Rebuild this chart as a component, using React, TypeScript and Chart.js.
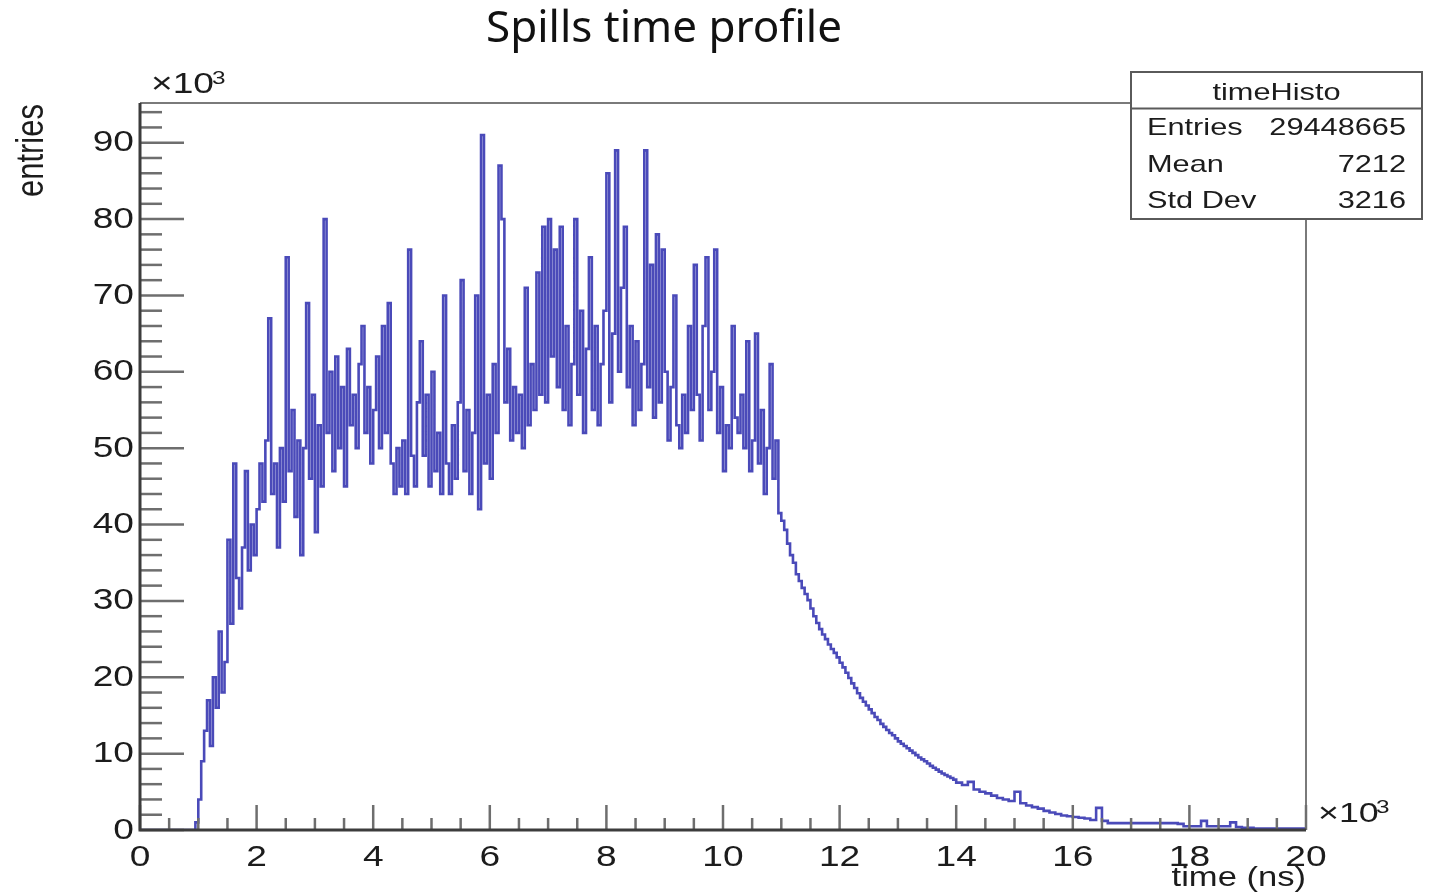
import React, { useEffect, useRef } from 'react';
import { Chart, registerables } from 'chart.js';

Chart.register(...registerables);

// ---------------- data (counts in units of 10^3, time in units of 10^3 ns) ----------------
const leadEdges = [0, 0.95];
const leadCounts = [0, 0];

const noisyStart = 1.0;
const noisyWidth = 0.05;
const counts1to3 = [1, 4, 9, 13, 17, 11, 20, 16, 26, 18, 22, 38, 27, 48, 33, 29, 37, 47, 34, 40,
  36, 42, 48, 43, 51, 67, 44, 48, 37, 50, 43, 75, 47, 55, 41, 51, 36, 50, 69, 46];
const counts3to5 = [57, 39, 53, 45, 80, 52, 60, 47, 62, 50, 58, 45, 63, 53, 57, 50, 61, 66, 52, 58,
  48, 55, 62, 50, 66, 52, 69, 48, 44, 50, 45, 51, 44, 76, 49, 45, 56, 64, 49, 57];
const counts5to7 = [45, 60, 47, 52, 44, 70, 48, 44, 53, 46, 56, 72, 47, 55, 44, 52, 70, 42, 91, 48,
  57, 46, 61, 52, 87, 80, 56, 63, 51, 58, 52, 57, 50, 71, 53, 61, 55, 73, 57, 79];
const counts7to9 = [56, 80, 62, 76, 58, 79, 55, 66, 53, 61, 80, 57, 68, 52, 63, 75, 55, 66, 53, 61,
  68, 86, 56, 65, 89, 60, 71, 79, 58, 66, 53, 64, 55, 61, 89, 58, 74, 54, 78, 56];
const counts9to11 = [76, 60, 51, 58, 70, 53, 50, 57, 52, 66, 55, 74, 57, 51, 66, 75, 55, 60, 76, 52,
  58, 47, 53, 50, 66, 54, 52, 57, 50, 64, 47, 51, 65, 48, 55, 44, 50, 61, 46, 51];

const decayStart = 11.0;
const decayWidth = 0.05;
const decay11to12 = [41.5, 40.5, 39.3, 37.5, 36, 35, 33.5, 32.6, 31.7, 30.9, 30.1, 29.0, 28.0, 27.1,
  26.3, 25.6, 25.0, 24.3, 23.7, 23.2];
const decay12to13 = [22.6, 21.9, 21.3, 20.6, 19.9, 19.2, 18.6, 17.9, 17.3, 16.8, 16.3, 15.8, 15.3,
  14.8, 14.4, 13.9, 13.5, 13.1, 12.7, 12.4];
const decay13to14 = [12.0, 11.6, 11.3, 11.0, 10.7, 10.4, 10.1, 9.8, 9.5, 9.25, 9.0, 8.7, 8.4, 8.15,
  7.9, 7.65, 7.4, 7.2, 7.0, 6.8];

const tailStart = 14.0;
const tailWidth = 0.1;
const tail14to17 = [6.6, 6.2, 5.9, 6.3, 5.3, 5.0, 4.8, 4.5, 4.2, 4.0, 3.8, 5.0, 3.5, 3.2, 3.0,
  2.8, 2.5, 2.3, 2.1, 1.9, 1.8, 1.7, 1.6, 1.5, 1.3, 2.9, 1.2, 0.9, 0.9, 0.9];
const tail17to20 = [0.9, 0.9, 0.9, 0.9, 0.9, 0.9, 0.9, 0.9, 0.9, 0.8, 0.5, 0.5, 0.5, 1.2, 0.5,
  0.5, 0.5, 0.5, 1.0, 0.4, 0.3, 0.3, 0.2, 0.2, 0.2, 0.2, 0.2, 0.2, 0.2, 0.2];

const xMin = 0;
const xMax = 20;
const yMin = 0;
const yMax = 95.2;
const xTickValues = [0, 2, 4, 6, 8, 10, 12, 14, 16, 18, 20];
const xTickLabels = ['0', '2', '4', '6', '8', '10', '12', '14', '16', '18', '20'];
const xMinorStep = 0.5;
const yTickValues = [0, 10, 20, 30, 40, 50, 60, 70, 80, 90];
const yTickLabels = ['0', '10', '20', '30', '40', '50', '60', '70', '80', '90'];
const yMinorStep = 2;

const chartTitle = 'Spills time profile';
const xAxisTitle = 'time (ns)';
const yAxisTitle = 'entries';
const statsTitle = 'timeHisto';
const statsLabels = ['Entries', 'Mean', 'Std Dev'];
const statsValues = ['29448665', '7212', '3216'];

// ---------------- build step points ----------------
function buildPoints() {
  const pts: { x: number; y: number }[] = [];
  leadEdges.forEach((e, i) => pts.push({ x: e, y: leadCounts[i] }));
  const noisy = [...counts1to3, ...counts3to5, ...counts5to7, ...counts7to9, ...counts9to11];
  noisy.forEach((c, i) => pts.push({ x: +(noisyStart + i * noisyWidth).toFixed(3), y: c }));
  const decay = [...decay11to12, ...decay12to13, ...decay13to14];
  decay.forEach((c, i) => pts.push({ x: +(decayStart + i * decayWidth).toFixed(3), y: c }));
  const tail = [...tail14to17, ...tail17to20];
  tail.forEach((c, i) => pts.push({ x: +(tailStart + i * tailWidth).toFixed(3), y: c }));
  pts.push({ x: xMax, y: tail[tail.length - 1] });
  return pts;
}

const FONT = '"Liberation Sans", Arial, Helvetica, sans-serif';
const SX = 1.28;

function txt(ctx: CanvasRenderingContext2D, s: string, x: number, y: number, size: number,
  align: CanvasTextAlign, baseline: CanvasTextBaseline, sx = SX, family = FONT) {
  ctx.save();
  ctx.translate(x, y);
  ctx.scale(sx, 1);
  ctx.font = `${size}px ${family}`;
  ctx.textAlign = align;
  ctx.textBaseline = baseline;
  ctx.fillStyle = '#1c1c1c';
  ctx.fillText(s, 0, 0);
  ctx.restore();
}

const rootPlugin = {
  id: 'rootDecor',
  afterDraw(chart: any) {
    const ctx: CanvasRenderingContext2D = chart.ctx;
    const { left, right, top, bottom } = chart.chartArea;
    const xs = chart.scales.x;
    const ys = chart.scales.y;
    ctx.save();

    // frame top & right
    ctx.strokeStyle = '#7a7a7a';
    ctx.lineWidth = 2;
    ctx.beginPath();
    ctx.moveTo(left, top);
    ctx.lineTo(right, top);
    ctx.lineTo(right, bottom);
    ctx.stroke();

    // x ticks
    ctx.strokeStyle = '#6e6e6e';
    ctx.lineWidth = 2.5;
    const nx = Math.round((xMax - xMin) / xMinorStep);
    for (let i = 0; i <= nx; i++) {
      const v = xMin + i * xMinorStep;
      const px = xs.getPixelForValue(v);
      const major = xTickValues.includes(v);
      const len = major ? 25 : 12;
      ctx.beginPath();
      ctx.moveTo(px, bottom);
      ctx.lineTo(px, bottom - len);
      ctx.stroke();
    }
    // y ticks
    const ny = Math.floor((yMax - yMin) / yMinorStep);
    for (let i = 0; i <= ny; i++) {
      const v = yMin + i * yMinorStep;
      const py = ys.getPixelForValue(v);
      const major = yTickValues.includes(v);
      const len = major ? 44 : 22;
      ctx.beginPath();
      ctx.moveTo(left, py);
      ctx.lineTo(left + len, py);
      ctx.stroke();
    }

    // axis lines
    ctx.strokeStyle = '#3c3c3c';
    ctx.lineWidth = 3;
    ctx.beginPath();
    ctx.moveTo(left, top);
    ctx.lineTo(left, bottom);
    ctx.lineTo(right, bottom);
    ctx.stroke();

    // tick labels
    xTickValues.forEach((v, i) => {
      txt(ctx, xTickLabels[i], xs.getPixelForValue(v), 866, 29, 'center', 'alphabetic');
    });
    yTickValues.forEach((v, i) => {
      txt(ctx, yTickLabels[i], 134, ys.getPixelForValue(v) + 8.5, 29, 'right', 'alphabetic');
    });

    // exponent labels
    txt(ctx, '\u00d710', 151, 93, 29, 'left', 'alphabetic');
    txt(ctx, '3', 212, 84, 19, 'left', 'alphabetic');
    txt(ctx, '\u00d710', 1318, 822, 28, 'left', 'alphabetic');
    txt(ctx, '3', 1376, 813, 19, 'left', 'alphabetic');

    // axis titles
    txt(ctx, xAxisTitle, right, 886, 27, 'right', 'alphabetic');
    ctx.save();
    ctx.translate(43, top + 1);
    ctx.rotate(-Math.PI / 2);
    ctx.scale(1, SX);
    ctx.font = `31px ${FONT}`;
    ctx.textAlign = 'right';
    ctx.textBaseline = 'alphabetic';
    ctx.fillStyle = '#1c1c1c';
    ctx.fillText(yAxisTitle, 0, 0);
    ctx.restore();

    // chart title
    ctx.save();
    ctx.font = `44px "Noto Sans", "Open Sans", sans-serif`;
    ctx.textAlign = 'center';
    ctx.textBaseline = 'alphabetic';
    ctx.fillStyle = '#111';
    ctx.fillText(chartTitle, 664, 42);
    ctx.restore();

    // stats box
    const bx = 1131, by = 72, bw = 291, bh = 147;
    ctx.fillStyle = '#ffffff';
    ctx.fillRect(bx, by, bw, bh);
    ctx.strokeStyle = '#5a5a5a';
    ctx.lineWidth = 2;
    ctx.strokeRect(bx, by, bw, bh);
    ctx.beginPath();
    ctx.moveTo(bx, 108.5);
    ctx.lineTo(bx + bw, 108.5);
    ctx.stroke();
    txt(ctx, statsTitle, bx + bw / 2, 100, 24, 'center', 'alphabetic');
    const rowY = [135, 172, 208];
    statsLabels.forEach((l, i) => {
      txt(ctx, l, 1147, rowY[i], 24, 'left', 'alphabetic');
      txt(ctx, statsValues[i], 1406, rowY[i], 24, 'right', 'alphabetic');
    });

    ctx.restore();
  },
};

export default function App() {
  const ref = useRef<HTMLCanvasElement | null>(null);
  useEffect(() => {
    if (!ref.current) return;
    const chart = new Chart(ref.current, {
      type: 'line',
      data: {
        datasets: [
          {
            data: buildPoints(),
            stepped: 'after',
            borderColor: 'rgba(34,34,170,0.82)',
            borderWidth: 2.6,
            pointRadius: 0,
            fill: false,
          } as any,
        ],
      },
      options: {
        animation: false,
        responsive: false,
        devicePixelRatio: 1,
        events: [],
        layout: { padding: { left: 140, top: 103, right: 129, bottom: 63 } },
        plugins: { legend: { display: false }, tooltip: { enabled: false }, title: { display: false } },
        scales: {
          x: { type: 'linear', min: xMin, max: xMax, display: false },
          y: { type: 'linear', min: yMin, max: yMax, display: false },
        },
      },
      plugins: [rootPlugin],
    });
    return () => chart.destroy();
  }, []);
  return (
    <div style={{ position: 'absolute', left: 0, top: 0, width: 1435, height: 893, background: '#fff' }}>
      <canvas ref={ref} width={1435} height={893} style={{ display: 'block', width: 1435, height: 893 }} />
    </div>
  );
}
